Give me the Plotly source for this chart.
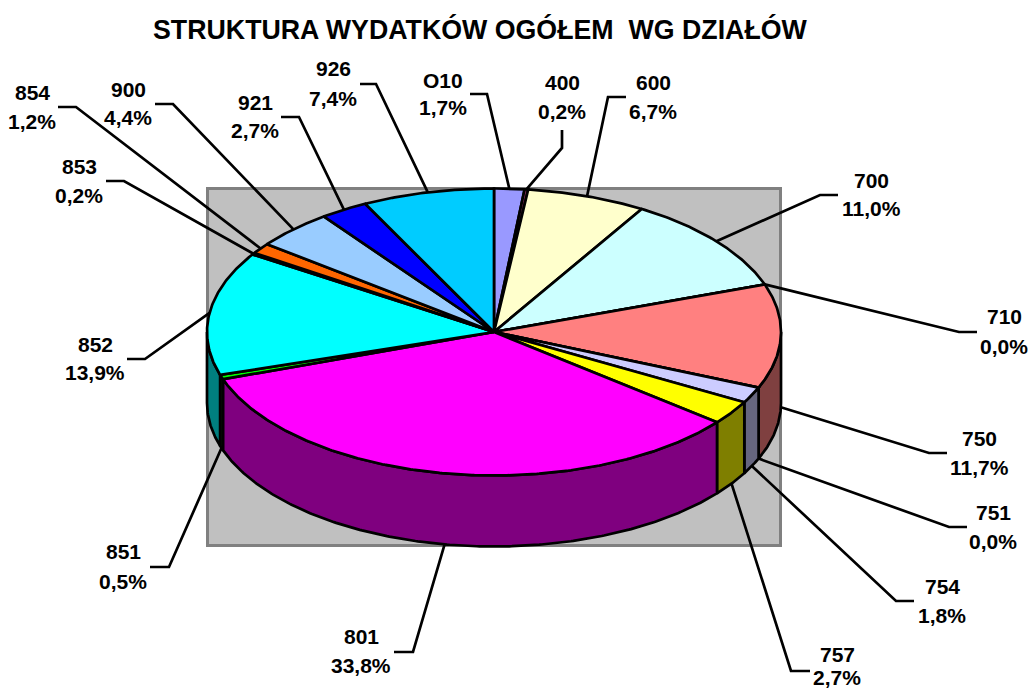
import math
import plotly.graph_objects as go

# ---- data ----
categories = ["O10", "400", "600", "700", "710", "750", "751", "754", "757",
              "801", "851", "852", "853", "854", "900", "921", "926"]
values = [1.7, 0.2, 6.7, 11.0, 0.0, 11.7, 0.0, 1.8, 2.7,
          33.8, 0.5, 13.9, 0.2, 1.2, 4.4, 2.7, 7.4]
value_labels = ["1,7%", "0,2%", "6,7%", "11,0%", "0,0%", "11,7%", "0,0%", "1,8%", "2,7%",
                "33,8%", "0,5%", "13,9%", "0,2%", "1,2%", "4,4%", "2,7%", "7,4%"]
title_text = "STRUKTURA WYDATKÓW OGÓŁEM  WG DZIAŁÓW"

# ---- styling / layout ----
colors = ["#9999FF", "#993366", "#FFFFCC", "#CCFFFF", "#660066", "#FF8080", "#0066CC", "#CCCCFF",
          "#FFFF00", "#FF00FF", "#00FF00", "#00FFFF", "#800000", "#FF6600", "#99CCFF", "#0000FF", "#00CCFF"]
CX, CY, RX, RY, DEPTH = 494, 332, 287, 143.5, 71
FONT = "Liberation Sans"
LABEL_SIZE = 21
LINE_W = 2.7

# text centre x, first line y, second line y, elbow x, elbow y, leader end x, leader end y
label_layout = {
    "O10": (443, 80, 107, 487, 94, 470, 94),
    "400": (562, 82, 111, 562, 148, 562, 130),
    "600": (653, 82, 111, 608, 97, 626, 97),
    "700": (871, 180, 208, 820, 195, 838, 195),
    "710": (1004, 316, 346, 959, 332, 977, 332),
    "750": (979, 438, 467, 929, 453, 947, 453),
    "751": (993, 512, 541, 949, 527, 967, 527),
    "754": (942, 586, 615, 896, 601, 914, 601),
    "757": (837, 654, 677, 791, 671, 810, 671),
    "801": (361, 636, 665, 413, 652, 394, 652),
    "851": (123, 551, 581, 169, 567, 150, 567),
    "852": (95, 344, 372, 145, 359, 127, 359),
    "853": (79, 166, 195, 124, 181, 106, 181),
    "854": (32, 92, 121, 76, 107, 58, 107),
    "900": (128, 89, 117, 173, 104, 155, 104),
    "921": (255, 102, 130, 299, 117, 281, 117),
    "926": (333, 68, 98, 376, 84, 360, 84),
}


def darker(hex_color):
    r, g, b = (int(hex_color[i:i + 2], 16) // 2 for i in (1, 3, 5))
    return f"rgb({r},{g},{b})"


def pt(deg, drop=0.0):
    a = math.radians(deg)
    return CX + RX * math.sin(a), CY - RY * math.cos(a) + drop


def arc(a0, a1, drop=0.0):
    n = max(2, int(abs(a1 - a0) * 2) + 2)
    return [pt(a0 + (a1 - a0) * i / (n - 1), drop) for i in range(n)]


total = sum(values)
angles = [0.0]
for v in values:
    angles.append(angles[-1] + v / total * 360)

fig = go.Figure()


def poly(points, fill):
    fig.add_trace(go.Scatter(
        x=[p[0] for p in points], y=[p[1] for p in points], mode="lines",
        fill="toself", fillcolor=fill, line=dict(color="black", width=LINE_W),
        hoverinfo="skip", showlegend=False))


# side walls of the front half
for i, c in enumerate(colors):
    a0, a1 = max(angles[i], 90), min(angles[i + 1], 270)
    if a1 > a0:
        top = arc(a0, a1)
        bottom = arc(a1, a0, DEPTH)
        poly(top + bottom + [top[0]], darker(c))

# top faces
for i, c in enumerate(colors):
    poly([(CX, CY)] + arc(angles[i], angles[i + 1]) + [(CX, CY)], c)

# leaders and labels
annotations = []
for i, cat in enumerate(categories):
    tx, y1, y2, ex, ey, lx, ly = label_layout[cat]
    mid = (angles[i] + angles[i + 1]) / 2
    drop = DEPTH if 90 <= mid <= 270 else 0
    ax, ay = pt(mid, drop)
    fig.add_trace(go.Scatter(
        x=[ax, ex, lx], y=[ay, ey, ly], mode="lines",
        line=dict(color="black", width=LINE_W), hoverinfo="skip", showlegend=False))
    for text, y in ((cat, y1), (value_labels[i], y2)):
        annotations.append(dict(
            x=tx, y=y, xref="x", yref="y", text=f"<b>{text}</b>", showarrow=False,
            xanchor="center", yanchor="middle", borderpad=0,
            font=dict(family=FONT, size=LABEL_SIZE, color="black")))

annotations.append(dict(
    x=480, y=29, xref="x", yref="y", text=f"<b>{title_text.replace('  ', ' &nbsp;')}</b>",
    showarrow=False, xanchor="center", yanchor="middle",
    font=dict(family=FONT, size=26.75, color="black")))

fig.update_layout(
    width=1030, height=691, margin=dict(l=0, r=0, t=0, b=0),
    paper_bgcolor="white", plot_bgcolor="white", showlegend=False,
    xaxis=dict(range=[0, 1030], visible=False, fixedrange=True),
    yaxis=dict(range=[691, 0], visible=False, fixedrange=True),
    annotations=annotations,
    shapes=[dict(type="rect", xref="x", yref="y", x0=207.5, x1=780.5, y0=188.5, y1=545.5,
                 fillcolor="#C0C0C0", line=dict(color="#808080", width=3), layer="below")],
)

fig.write_html("out.html", config={"displayModeBar": False},
               post_script="document.body.style.margin='0';document.body.style.overflow='hidden';")
